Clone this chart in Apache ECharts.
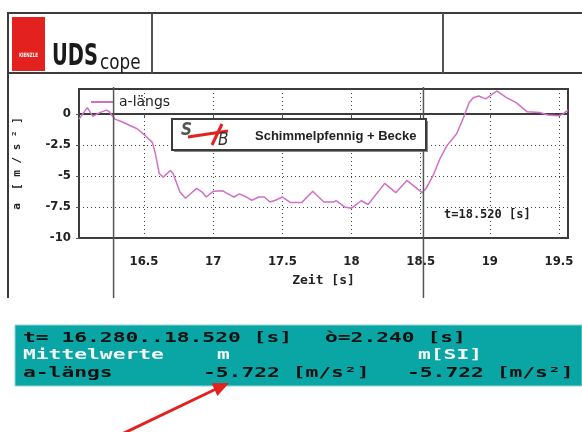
<!DOCTYPE html>
<html>
<head>
<meta charset="utf-8">
<script src="https://cdn.jsdelivr.net/npm/echarts@6/dist/echarts.min.js"></script>
<style>
html, body { margin: 0; padding: 0; background: #fff; }
#main { width: 582px; height: 432px; }
</style>
</head>
<body>
<div id="main"></div>
<script>
// Messdaten a-längs über Zeit
const timeS = [16.03, 16.09, 16.13, 16.18, 16.23, 16.25, 16.29, 16.34, 16.39, 16.45,
  16.51, 16.56, 16.58, 16.61, 16.64, 16.69, 16.71, 16.76, 16.80, 16.84,
  16.88, 16.92, 16.95, 17.00, 17.07, 17.10, 17.15, 17.19, 17.24, 17.28,
  17.33, 17.37, 17.41, 17.45, 17.50, 17.56, 17.64, 17.72, 17.80, 17.87,
  17.89, 17.95, 18.00, 18.07, 18.12, 18.24, 18.32, 18.40, 18.51, 18.54,
  18.59, 18.64, 18.69, 18.76, 18.81, 18.85, 18.88, 18.92, 18.97, 19.05,
  19.12, 19.19, 19.27, 19.36, 19.42, 19.50, 19.53, 19.565]
const aLaengs = [-0.43, 0.5, -0.2, 0.1, 0.3, 0.15, -0.43, -0.64, -0.9, -1.2,
  -1.76, -2.3, -3.1, -4.8, -5.1, -4.56, -4.8, -6.3, -6.8, -6.4,
  -6.0, -6.3, -6.7, -6.24, -6.2, -6.4, -6.7, -6.45, -6.7, -6.96,
  -6.7, -6.7, -7.1, -6.96, -6.7, -7.15, -7.15, -6.24, -7.1, -7.1,
  -7.0, -7.5, -7.6, -7.0, -7.3, -5.6, -6.35, -5.36, -6.35, -6.0,
  -4.96, -3.6, -2.56, -1.6, -0.3, 0.9, 1.3, 1.44, 1.2, 1.84,
  1.3, 0.9, 0.16, 0.1, -0.1, -0.16, 0, 0.3]
const xTicks = [16.5, 17, 17.5, 18, 18.5, 19, 19.5]
const yTicks = [-10, -7.5, -5, -2.5, 0]
const cursorT = [16.28, 18.52] // Cursor links / rechts

const condFont = "'DejaVu Sans Condensed', 'Liberation Sans Narrow', 'DejaVu Sans', sans-serif"
const monoFont = "'DejaVu Sans Mono', 'Liberation Mono', monospace"
const lineColor = '#d070c8'
const frameColor = '#3c3c3c'

const chart = echarts.init(document.getElementById('main'))

const option = {
  animation: false,
  backgroundColor: '#fff',
  grid: {
    left: 79, top: 89, width: 489, height: 149,
    show: true, borderColor: frameColor, borderWidth: 2,
    containLabel: false, outerBoundsMode: 'none'
  },
  legend: {
    left: 91, top: 95, padding: 0,
    icon: 'rect', itemWidth: 23, itemHeight: 2,
    textStyle: { fontSize: 14, color: '#222', fontFamily: "'DejaVu Sans', sans-serif" },
    data: ['a-längs']
  },
  xAxis: {
    type: 'value', min: 16.03, max: 19.565,
    name: 'Zeit [s]', nameLocation: 'middle', nameGap: 36,
    nameTextStyle: { fontFamily: monoFont, fontWeight: 'bold', fontSize: 13, color: '#222' },
    axisLine: { lineStyle: { color: frameColor, width: 2 } },
    axisTick: { customValues: xTicks, length: 4, lineStyle: { color: '#555' } },
    axisLabel: { customValues: xTicks, margin: 17, fontFamily: condFont, fontWeight: 'bold', fontSize: 13, color: '#222' },
    splitLine: { show: true, lineStyle: { type: [1, 3], color: '#444', width: 1 } }
  },
  yAxis: {
    type: 'value', min: -10, max: 2,
    name: 'a  [ m / s ² ]', nameLocation: 'middle', nameRotate: 90, nameGap: 56,
    nameTextStyle: { fontFamily: monoFont, fontWeight: 'bold', fontSize: 11, color: '#222' },
    axisLine: { show: true, lineStyle: { color: frameColor, width: 2 } },
    axisTick: { show: true, customValues: yTicks, length: 3, lineStyle: { color: '#555' } },
    axisLabel: { customValues: yTicks, margin: 8, fontFamily: condFont, fontWeight: 'bold', fontSize: 13, color: '#222' },
    splitLine: { show: true, lineStyle: { type: [1, 3], color: '#444', width: 1 } }
  },
  series: [
    {
      name: 'a-längs',
      type: 'line',
      data: timeS.map((t, i) => [t, aLaengs[i]]),
      symbol: 'none',
      lineStyle: { color: lineColor, width: 1.5 },
      itemStyle: { color: lineColor },
      z: 3
    }
  ]
}
chart.setOption(option)

// Cursor-Positionen über die Achse bestimmen
const cx = cursorT.map(t => chart.convertToPixel({ gridIndex: 0 }, [t, 0])[0])

// Text im Info-Feld (breite Pixelschrift nachgebildet)
function infoText(str, x, y, color) {
  return {
    type: 'text', x: x, y: y, scaleX: 1.52,
    style: { text: str, fill: color, font: 'bold 14px ' + monoFont, verticalAlign: 'middle' }
  }
}

const graphic = [
  // Kopfzeile
  { type: 'rect', shape: { x: 8, y: 13, width: 590, height: 60 }, style: { fill: '#fff', stroke: frameColor, lineWidth: 2 } },
  { type: 'line', shape: { x1: 152, y1: 13, x2: 152, y2: 73 }, style: { stroke: '#555', lineWidth: 2 } },
  { type: 'line', shape: { x1: 443, y1: 13, x2: 443, y2: 73 }, style: { stroke: '#555', lineWidth: 2 } },
  { type: 'rect', shape: { x: 12, y: 17, width: 33, height: 54 }, style: { fill: '#e3211f' } },
  { type: 'text', x: 28.5, y: 55, scaleX: 0.75, style: { text: 'KIENZLE', fill: '#fff', font: 'bold 6px ' + condFont, align: 'center', verticalAlign: 'middle' } },
  { type: 'text', x: 52, y: 72, scaleX: 0.72, style: { text: 'UDS', fill: '#1a1a1a', font: 'bold 30px ' + condFont, verticalAlign: 'bottom' } },
  { type: 'text', x: 100, y: 74, scaleX: 0.85, style: { text: 'cope', fill: '#1a1a1a', font: '22px ' + condFont, verticalAlign: 'bottom' } },
  // Diagrammrahmen links
  { type: 'line', shape: { x1: 8, y1: 73, x2: 8, y2: 298 }, style: { stroke: frameColor, lineWidth: 2 } },
  // Cursor
  { type: 'line', shape: { x1: cx[0], y1: 87, x2: cx[0], y2: 298 }, style: { stroke: '#555', lineWidth: 1.5 }, z: 10 },
  { type: 'line', shape: { x1: cx[1], y1: 87, x2: cx[1], y2: 298 }, style: { stroke: '#555', lineWidth: 1.5 }, z: 10 },
  { type: 'text', x: 444, y: 215, style: { text: 't=18.520 [s]', fill: '#222', font: 'bold 12px ' + monoFont, verticalAlign: 'middle' }, z: 10 },
  // Logo-Box
  { type: 'rect', shape: { x: 174, y: 121, width: 254, height: 31 }, style: { fill: '#888' }, z: 9 },
  { type: 'rect', shape: { x: 172, y: 119, width: 254, height: 31 }, style: { fill: '#fff', stroke: frameColor, lineWidth: 2 }, z: 10 },
  { type: 'text', x: 181, y: 131, style: { text: 'S', fill: '#555', font: 'italic bold 17px ' + condFont, verticalAlign: 'middle' }, z: 11 },
  { type: 'line', shape: { x1: 188, y1: 137, x2: 228, y2: 131 }, style: { stroke: '#e3211f', lineWidth: 3 }, z: 11 },
  { type: 'line', shape: { x1: 212, y1: 145, x2: 222, y2: 124 }, style: { stroke: '#e3211f', lineWidth: 3 }, z: 11 },
  { type: 'text', x: 218, y: 141, style: { text: 'B', fill: '#333', font: 'italic 17px ' + condFont, verticalAlign: 'middle' }, z: 11 },
  { type: 'text', x: 255, y: 136, style: { text: 'Schimmelpfennig + Becke', fill: '#222', font: 'bold 13px Liberation Sans, sans-serif', verticalAlign: 'middle' }, z: 11 },
  // Info-Feld
  { type: 'rect', shape: { x: 15, y: 325, width: 567, height: 61 }, style: { fill: '#0aa6a6', stroke: '#8fd4d4', lineWidth: 1 } },
  infoText('t= 16.280..18.520 [s]', 23, 338, '#111'),
  infoText('ò=2.240 [s]', 325, 338, '#111'),
  infoText('Mittelwerte', 23, 355, '#f4f4f4'),
  infoText('m', 217, 355, '#f4f4f4'),
  infoText('m[SI]', 418, 355, '#f4f4f4'),
  infoText('a-längs', 23, 373, '#111'),
  infoText('-5.722 [m/s²]', 203, 373, '#111'),
  infoText('-5.722 [m/s²]', 407, 373, '#111'),
  // Pfeil
  { type: 'line', shape: { x1: 122, y1: 434, x2: 216, y2: 389 }, style: { stroke: '#e3211f', lineWidth: 3 } },
  { type: 'polygon', shape: { points: [[229, 383], [217.4, 396.1], [211.6, 383.3]] }, style: { fill: '#e3211f' } }
]
chart.setOption({ graphic: graphic })
</script>
</body>
</html>
